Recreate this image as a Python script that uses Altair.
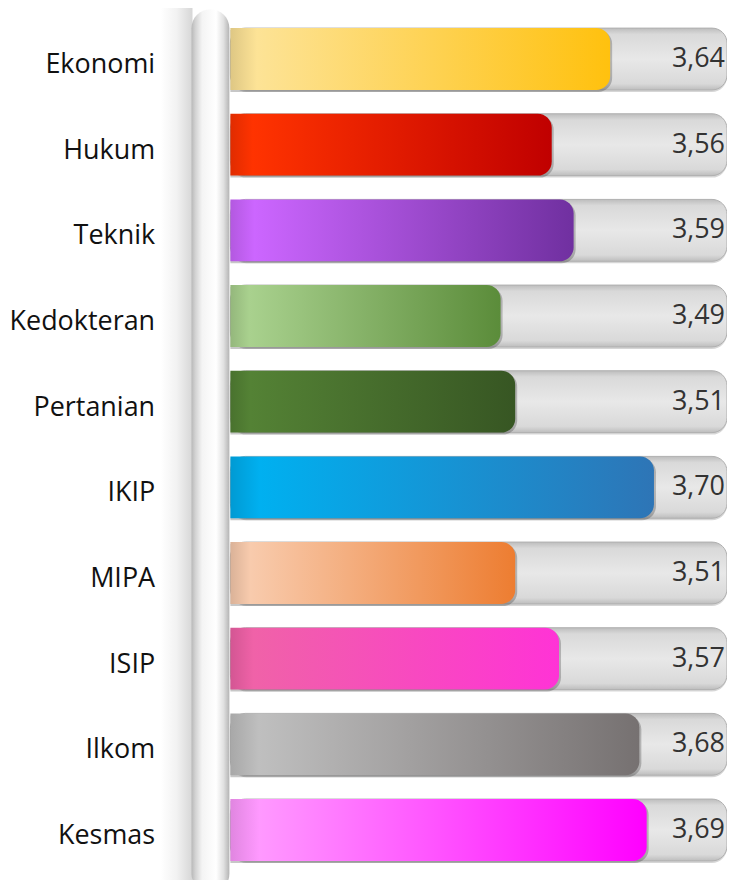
import altair as alt
import pandas as pd

categories = ["Ekonomi", "Hukum", "Teknik", "Kedokteran", "Pertanian",
              "IKIP", "MIPA", "ISIP", "Ilkom", "Kesmas"]
values = [3.64, 3.56, 3.59, 3.49, 3.51, 3.70, 3.51, 3.57, 3.68, 3.69]
color_start = ["#FDE396", "#FF3300", "#CC66FF", "#A9D18E", "#548235",
               "#00B0F0", "#F8CBAD", "#F062A8", "#BFBFBF", "#FF99FF"]
color_end = ["#FFC10E", "#C00000", "#7030A0", "#5B8C3A", "#375623",
             "#2E75B6", "#ED7D31", "#FF33D6", "#767171", "#FF00FF"]
x_domain = [3.12, 3.80]

W = 498
H = 859
FONT = "Open Sans"

df = pd.DataFrame({"cat": categories, "val": values})
one = pd.DataFrame({"k": [0]})


def darker(hexc, f):
    h = hexc.lstrip("#")
    r, g, b = (int(h[i:i + 2], 16) for i in (0, 2, 4))
    return "#%02X%02X%02X" % (int(r * f), int(g * f), int(b * f))


def hgrad(stops):
    return alt.Gradient(
        gradient="linear",
        stops=[alt.GradientStop(color=c, offset=o) for o, c in stops],
        x1=0, x2=1, y1=0, y2=0,
    )


def vgrad(stops):
    return alt.Gradient(
        gradient="linear",
        stops=[alt.GradientStop(color=c, offset=o) for o, c in stops],
        x1=0, x2=0, y1=0, y2=1,
    )


Y = alt.Y(
    "cat:N",
    sort=categories,
    scale=alt.Scale(paddingInner=0.278, paddingOuter=0.139),
    axis=alt.Axis(
        title=None, ticks=False, domain=False, labelFontSize=27,
        labelFont=FONT, labelColor="#111111", labelPadding=76,
        labelOffset=6, zindex=1,
    ),
)
X = alt.X("val:Q", scale=alt.Scale(domain=x_domain, nice=False, zero=False),
          axis=None)
X2 = alt.datum(x_domain[0])

# soft shadow left of the cylinder
shade = alt.Chart(one).mark_rect(
    fill=hgrad([(0, "#FFFFFF"), (0.5, "#F2F2F2"), (1, "#D6D6D6")])
).encode(x=alt.value(-70), x2=alt.value(-38),
         y=alt.value(-15), y2=alt.value(H + 20))

# tracks
track_shadow = alt.Chart(df).mark_bar(
    cornerRadius=15, fill="#000000", opacity=0.16, yOffset=2, xOffset=1
).encode(x=alt.value(0), x2=alt.value(W), y=Y)

track = alt.Chart(df).mark_bar(
    cornerRadius=15,
    fill=vgrad([(0, "#BDBDBD"), (0.1, "#D9D9D9"), (0.5, "#E8E8E8"),
                (0.9, "#D9D9D9"), (1, "#BDBDBD")]),
    stroke="#B0B0B0", strokeWidth=1,
).encode(x=alt.value(0), x2=alt.value(W), y=Y)

bar_shadow = alt.Chart(df).mark_bar(
    cornerRadiusTopRight=14, cornerRadiusBottomRight=14,
    fill="#000000", opacity=0.22, yOffset=2, xOffset=2
).encode(x=X, x2=X2, y=Y)

layers = [shade, track_shadow, track, bar_shadow]
for cat, c0, c1 in zip(categories, color_start, color_end):
    g = hgrad([(0, darker(c0, 0.88)), (0.07, c0), (1, c1)])
    layers.append(
        alt.Chart(df).transform_filter(alt.datum.cat == cat)
        .mark_bar(cornerRadiusTopRight=14, cornerRadiusBottomRight=14, fill=g)
        .encode(x=X, x2=X2, y=Y)
    )

labels = alt.Chart(df).transform_calculate(
    lbl="replace(format(datum.val, '.2f'), '.', ',')"
).mark_text(
    align="right", baseline="middle", fontSize=27, font=FONT,
    color="#333333", dx=-2,
).encode(x=alt.value(W), y=Y, text="lbl:N")
layers.append(labels)

cyl = alt.Chart(one).mark_rect(
    cornerRadius=19,
    fill=hgrad([(0, "#B8B8B8"), (0.1, "#D2D2D2"), (0.28, "#F4F4F4"),
                (0.65, "#FFFFFF"), (0.85, "#E0E0E0"), (1, "#B4B4B4")]),
).encode(x=alt.value(-39), x2=alt.value(-1),
         y=alt.value(-7), y2=alt.value(H + 20))
layers.append(cyl)

chart = alt.layer(*layers).properties(
    width=W, height=H,
    autosize=alt.AutoSizeParams(type="none"),
    padding={"left": 223, "top": 7, "right": 0, "bottom": 6},
    background="white",
).configure_view(stroke=None)

chart.save("out.html", embed_options={"renderer": "svg", "actions": False})
